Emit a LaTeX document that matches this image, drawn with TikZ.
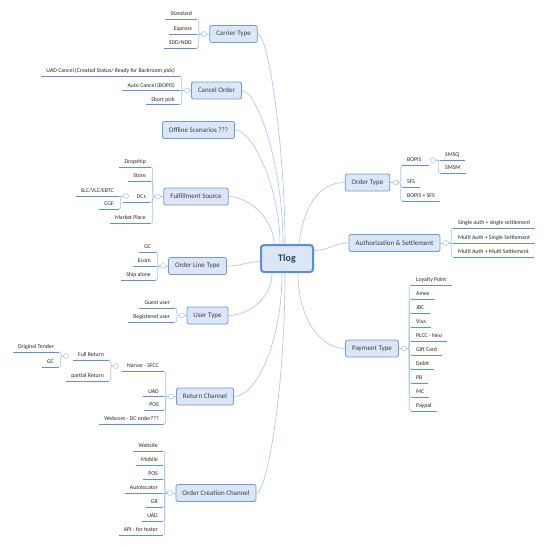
\documentclass[tikz,border=0pt]{standalone}
\usepackage{fontspec}
\setmainfont{Carlito}
\usepackage{tikz}

\definecolor{topicfill}{HTML}{DCE6F4}
\definecolor{topicline}{HTML}{6C9BD9}
\definecolor{topictext}{HTML}{2E3D5A}
\definecolor{branchline}{HTML}{A9C4EB}
\definecolor{leafline}{HTML}{5A90DC}
\definecolor{leaftext}{HTML}{262626}
\definecolor{rootline}{HTML}{5A8ED6}
\definecolor{roottext}{HTML}{24426F}

\tikzset{
  root/.style={draw=rootline, fill=topicfill, text=roottext, line width=2pt, rounded corners=3pt,
    minimum width=52pt, minimum height=27pt, font=\fontsize{10}{12}\selectfont\bfseries},
  topic/.style={draw=topicline, fill=topicfill, text=topictext, line width=0.8pt, rounded corners=2pt,
    minimum height=17pt, inner xsep=6.5pt, font=\fontsize{7}{8}\selectfont},
  uline/.style={draw=leafline, line width=1pt},
  leaf/.style={inner xsep=5pt, inner ysep=1.5pt, text height=4pt, text depth=1.5pt,
    font=\fontsize{5.8}{6}\selectfont, text=leaftext,
    append after command={(\tikzlastnode.south west) edge[uline] (\tikzlastnode.south east)}},
  lleaf/.style={leaf, anchor=south east},
  rleaf/.style={leaf, anchor=south west},
  knob/.style={circle, draw=branchline, fill=white, line width=0.5pt, inner sep=0pt, minimum size=5pt},
  branch/.style={draw=branchline, line width=0.6pt},
  twig/.style={draw=branchline, line width=0.6pt, rounded corners=2pt},
}

\begin{document}
\begin{tikzpicture}[x=1pt, y=-1pt]
        \path[fill=white, use as bounding box] (0,0) rectangle (549,544);

        \node[root] (tlog) at (287,258.5) {Tlog};

        \node[topic] (carrier) at (233.5,34) {Carrier Type};
        \node[topic] (cancel) at (216.5,90.5) {Cancel Order};
        \node[topic] (offline) at (198.5,130) {Offline Scenarios ???};
        \node[topic] (fulfil) at (196,196.5) {Fulfillment Source};
        \node[topic] (linetype) at (197.5,266) {Order Line Type};
        \node[topic] (user) at (207.5,315.5) {User Type};
        \node[topic] (returnch) at (205,396.5) {Return Channel};
        \node[topic] (creation) at (216,493) {Order Creation Channel};

        \node[topic] (ordertype) at (367.5,182.5) {Order Type};
        \node[topic] (auth) at (394.5,243) {Authorization \& Settlement};
        \node[topic] (payment) at (372,348.5) {Payment Type};

        \node[knob] (kcarrier) at (204,34) {};
        \node[knob] (kcancel) at (187,90.5) {};
        \node[knob] (kfulfil) at (158,196.5) {};
        \node[knob] (kdcs) at (126,196) {};
        \node[knob] (klinetype) at (163,266) {};
        \node[knob] (kuser) at (182,315.5) {};
        \node[knob] (kreturn) at (171,396.5) {};
        \node[knob] (knarvar) at (116,366) {};
        \node[knob] (kfull) at (66,356) {};
        \node[knob] (kcreation) at (170,493) {};
        \node[knob] (kordertype) at (395.5,182.5) {};
        \node[knob] (kbopis) at (433,160) {};
        \node[knob] (kauth) at (446,243) {};
        \node[knob] (kpayment) at (404,348.5) {};

        \node[lleaf] (standard) at (197,19) {Standard};
        \node[lleaf] (express) at (197,34) {Express};
        \node[lleaf] (sddndd) at (197,48) {SDD/NDD};

        \node[lleaf] (uadcancel) at (180,76) {UAD Cancel (Created Status/ Ready for Backroom pick)};
        \node[lleaf] (autocancel) at (180,90.5) {Auto Cancel (BOPIS)};
        \node[lleaf] (shortpick) at (180,104.5) {Short pick};

        \node[lleaf] (dropship) at (151,167) {Dropship};
        \node[lleaf] (store) at (151,181) {Store};
        \node[lleaf, text width=18pt, align=right] (dcs) at (151,202) {DCs};
        \node[lleaf] (marketplace) at (151,223) {Market Place};
        \node[lleaf] (slc) at (119,196) {SLC/VLC/EBTC};
        \node[lleaf] (cgf) at (119,209) {CGF};

        \node[lleaf] (gcline) at (156,252) {GC};
        \node[lleaf] (ecom) at (156,266) {Ecom};
        \node[lleaf] (shipalone) at (156,280) {Ship alone};

        \node[lleaf] (guest) at (175,308) {Guest user};
        \node[lleaf] (registered) at (175,322) {Registered user};

        \node[lleaf] (narvar) at (164,371) {Narvar - SFCC};
        \node[lleaf] (uadreturn) at (164,396.5) {UAD};
        \node[lleaf] (posreturn) at (164,410) {POS};
        \node[lleaf] (webcom) at (164,424) {Webcom - DC order???};
        \node[lleaf] (fullreturn) at (109,360) {Full Return};
        \node[lleaf] (partreturn) at (109,381) {partial Return};
        \node[lleaf] (tender) at (59,352) {Original Tender};
        \node[lleaf] (gcreturn) at (59,367) {GC};

        \node[lleaf] (website) at (163,451) {Website};
        \node[lleaf] (mobile) at (163,465) {Mobile};
        \node[lleaf] (poscreate) at (163,479) {POS};
        \node[lleaf] (autolocator) at (163,493) {Autolocator};
        \node[lleaf] (gr) at (163,507) {GR};
        \node[lleaf] (uadcreate) at (163,521) {UAD};
        \node[lleaf] (api) at (163,535) {API - for tester};

        \node[rleaf, text width=17pt] (bopis) at (402,165) {BOPIS};
        \node[rleaf] (sfs) at (402,187) {SFS};
        \node[rleaf] (bopissfs) at (402,201) {BOPIS + SFS};
        \node[rleaf] (smsq) at (440,160) {SMSQ};
        \node[rleaf] (smsm) at (440,173) {SMSM};

        \node[rleaf] (singlesingle) at (453,228) {Single auth + single settlement};
        \node[rleaf] (multisingle) at (453,243) {Multi Auth + Single Settlement};
        \node[rleaf] (multimulti) at (453,257) {Multi Auth + Multi Settlement};

        \node[rleaf] (loyalty) at (411,285) {Loyalty Point};
        \node[rleaf] (amex) at (411,299) {Amex};
        \node[rleaf] (jbc) at (411,313) {JBC};
        \node[rleaf] (visa) at (411,327) {Visa};
        \node[rleaf] (plcc) at (411,341) {PLCC - Neo};
        \node[rleaf] (giftcard) at (411,355) {Gift Card};
        \node[rleaf] (debit) at (411,369) {Debit};
        \node[rleaf] (pb) at (411,383) {PB};
        \node[rleaf] (mc) at (411,397) {MC};
        \node[rleaf] (paypal) at (411,411) {Paypal};

        \draw[branch] (carrier.east) .. controls +(11,0) and +(0,-95) .. ([xshift=-2pt]tlog.north);
        \draw[branch] (cancel.east) .. controls +(15,0) and +(0,-80) .. ([xshift=-4pt]tlog.north);
        \draw[branch] (offline.east) .. controls +(18,0) and +(0,-55) .. ([xshift=-7pt]tlog.north);
        \draw[branch] (fulfil.east) .. controls +(20,0) and +(0,-25) .. ([xshift=-13pt]tlog.north);
        \draw[branch] (linetype.east) .. controls +(15,0) and +(-12,0) .. ([yshift=-3pt]tlog.west);
        \draw[branch] (user.east) .. controls +(20,0) and +(0,25) .. ([xshift=-15pt]tlog.south);
        \draw[branch] (returnch.east) .. controls +(22,0) and +(0,70) .. ([xshift=-5pt]tlog.south);
        \draw[branch] (creation.east) .. controls +(10,0) and +(0,120) .. ([xshift=-2pt]tlog.south);
        \draw[branch] ([xshift=12pt]tlog.north) .. controls +(5,-40) and +(-25,0) .. (ordertype.west);
        \draw[branch] ([yshift=8pt]tlog.east) .. controls +(15,0) and +(-15,0) .. (auth.west);
        \draw[branch] ([xshift=11pt]tlog.south) .. controls +(0,45) and +(-25,0) .. (payment.west);

        \draw[branch] (carrier) -- (kcarrier);
        \draw[branch] (cancel) -- (kcancel);
        \draw[branch] (fulfil) -- (kfulfil);
        \draw[branch] (linetype) -- (klinetype);
        \draw[branch] (user) -- (kuser);
        \draw[branch] (returnch) -- (kreturn);
        \draw[branch] (creation) -- (kcreation);
        \draw[branch] (ordertype) -- (kordertype);
        \draw[branch] (auth) -- (kauth);
        \draw[branch] (payment) -- (kpayment);

        \draw[twig] (kcarrier.west) -- ++(-2.5,0) |- (standard.south east);
        \draw[twig] (kcarrier.west) -- (express.south east);
        \draw[twig] (kcarrier.west) -- ++(-2.5,0) |- (sddndd.south east);

        \draw[twig] (kcancel.west) -- ++(-2.5,0) |- (uadcancel.south east);
        \draw[twig] (kcancel.west) -- (autocancel.south east);
        \draw[twig] (kcancel.west) -- ++(-2.5,0) |- (shortpick.south east);

        \draw[twig] (kfulfil.west) -- ++(-2.5,0) |- (dropship.south east);
        \draw[twig] (kfulfil.west) -- ++(-2.5,0) |- (store.south east);
        \draw[twig] (kfulfil.west) -- ++(-2.5,0) |- (dcs.south east);
        \draw[twig] (kfulfil.west) -- ++(-2.5,0) |- (marketplace.south east);
        \draw[twig] (kdcs.west) -- (slc.south east);
        \draw[twig] (kdcs.west) -- ++(-2.5,0) |- (cgf.south east);

        \draw[twig] (klinetype.west) -- ++(-2.5,0) |- (gcline.south east);
        \draw[twig] (klinetype.west) -- (ecom.south east);
        \draw[twig] (klinetype.west) -- ++(-2.5,0) |- (shipalone.south east);

        \draw[twig] (kuser.west) -- ++(-2.5,0) |- (guest.south east);
        \draw[twig] (kuser.west) -- ++(-2.5,0) |- (registered.south east);

        \draw[twig] (kreturn.west) -- ++(-2.5,0) |- (narvar.south east);
        \draw[twig] (kreturn.west) -- (uadreturn.south east);
        \draw[twig] (kreturn.west) -- ++(-2.5,0) |- (posreturn.south east);
        \draw[twig] (kreturn.west) -- ++(-2.5,0) |- (webcom.south east);
        \draw[twig] (knarvar.west) -- ++(-2.5,0) |- (fullreturn.south east);
        \draw[twig] (knarvar.west) -- ++(-2.5,0) |- (partreturn.south east);
        \draw[twig] (kfull.west) -- ++(-2.5,0) |- (tender.south east);
        \draw[twig] (kfull.west) -- ++(-2.5,0) |- (gcreturn.south east);

        \draw[twig] (kcreation.west) -- ++(-2.5,0) |- (website.south east);
        \draw[twig] (kcreation.west) -- ++(-2.5,0) |- (mobile.south east);
        \draw[twig] (kcreation.west) -- ++(-2.5,0) |- (poscreate.south east);
        \draw[twig] (kcreation.west) -- (autolocator.south east);
        \draw[twig] (kcreation.west) -- ++(-2.5,0) |- (gr.south east);
        \draw[twig] (kcreation.west) -- ++(-2.5,0) |- (uadcreate.south east);
        \draw[twig] (kcreation.west) -- ++(-2.5,0) |- (api.south east);

        \draw[twig] (kordertype.east) -- ++(2.5,0) |- (bopis.south west);
        \draw[twig] (kordertype.east) -- ++(2.5,0) |- (sfs.south west);
        \draw[twig] (kordertype.east) -- ++(2.5,0) |- (bopissfs.south west);
        \draw[twig] (kbopis.east) -- (smsq.south west);
        \draw[twig] (kbopis.east) -- ++(2.5,0) |- (smsm.south west);

        \draw[twig] (kauth.east) -- ++(2.5,0) |- (singlesingle.south west);
        \draw[twig] (kauth.east) -- (multisingle.south west);
        \draw[twig] (kauth.east) -- ++(2.5,0) |- (multimulti.south west);

        \draw[twig] (kpayment.east) -- ++(2.5,0) |- (loyalty.south west);
        \draw[twig] (kpayment.east) -- ++(2.5,0) |- (amex.south west);
        \draw[twig] (kpayment.east) -- ++(2.5,0) |- (jbc.south west);
        \draw[twig] (kpayment.east) -- ++(2.5,0) |- (visa.south west);
        \draw[twig] (kpayment.east) -- ++(2.5,0) |- (plcc.south west);
        \draw[twig] (kpayment.east) -- ++(2.5,0) |- (giftcard.south west);
        \draw[twig] (kpayment.east) -- ++(2.5,0) |- (debit.south west);
        \draw[twig] (kpayment.east) -- ++(2.5,0) |- (pb.south west);
        \draw[twig] (kpayment.east) -- ++(2.5,0) |- (mc.south west);
        \draw[twig] (kpayment.east) -- ++(2.5,0) |- (paypal.south west);
    \end{tikzpicture}
\end{document}
